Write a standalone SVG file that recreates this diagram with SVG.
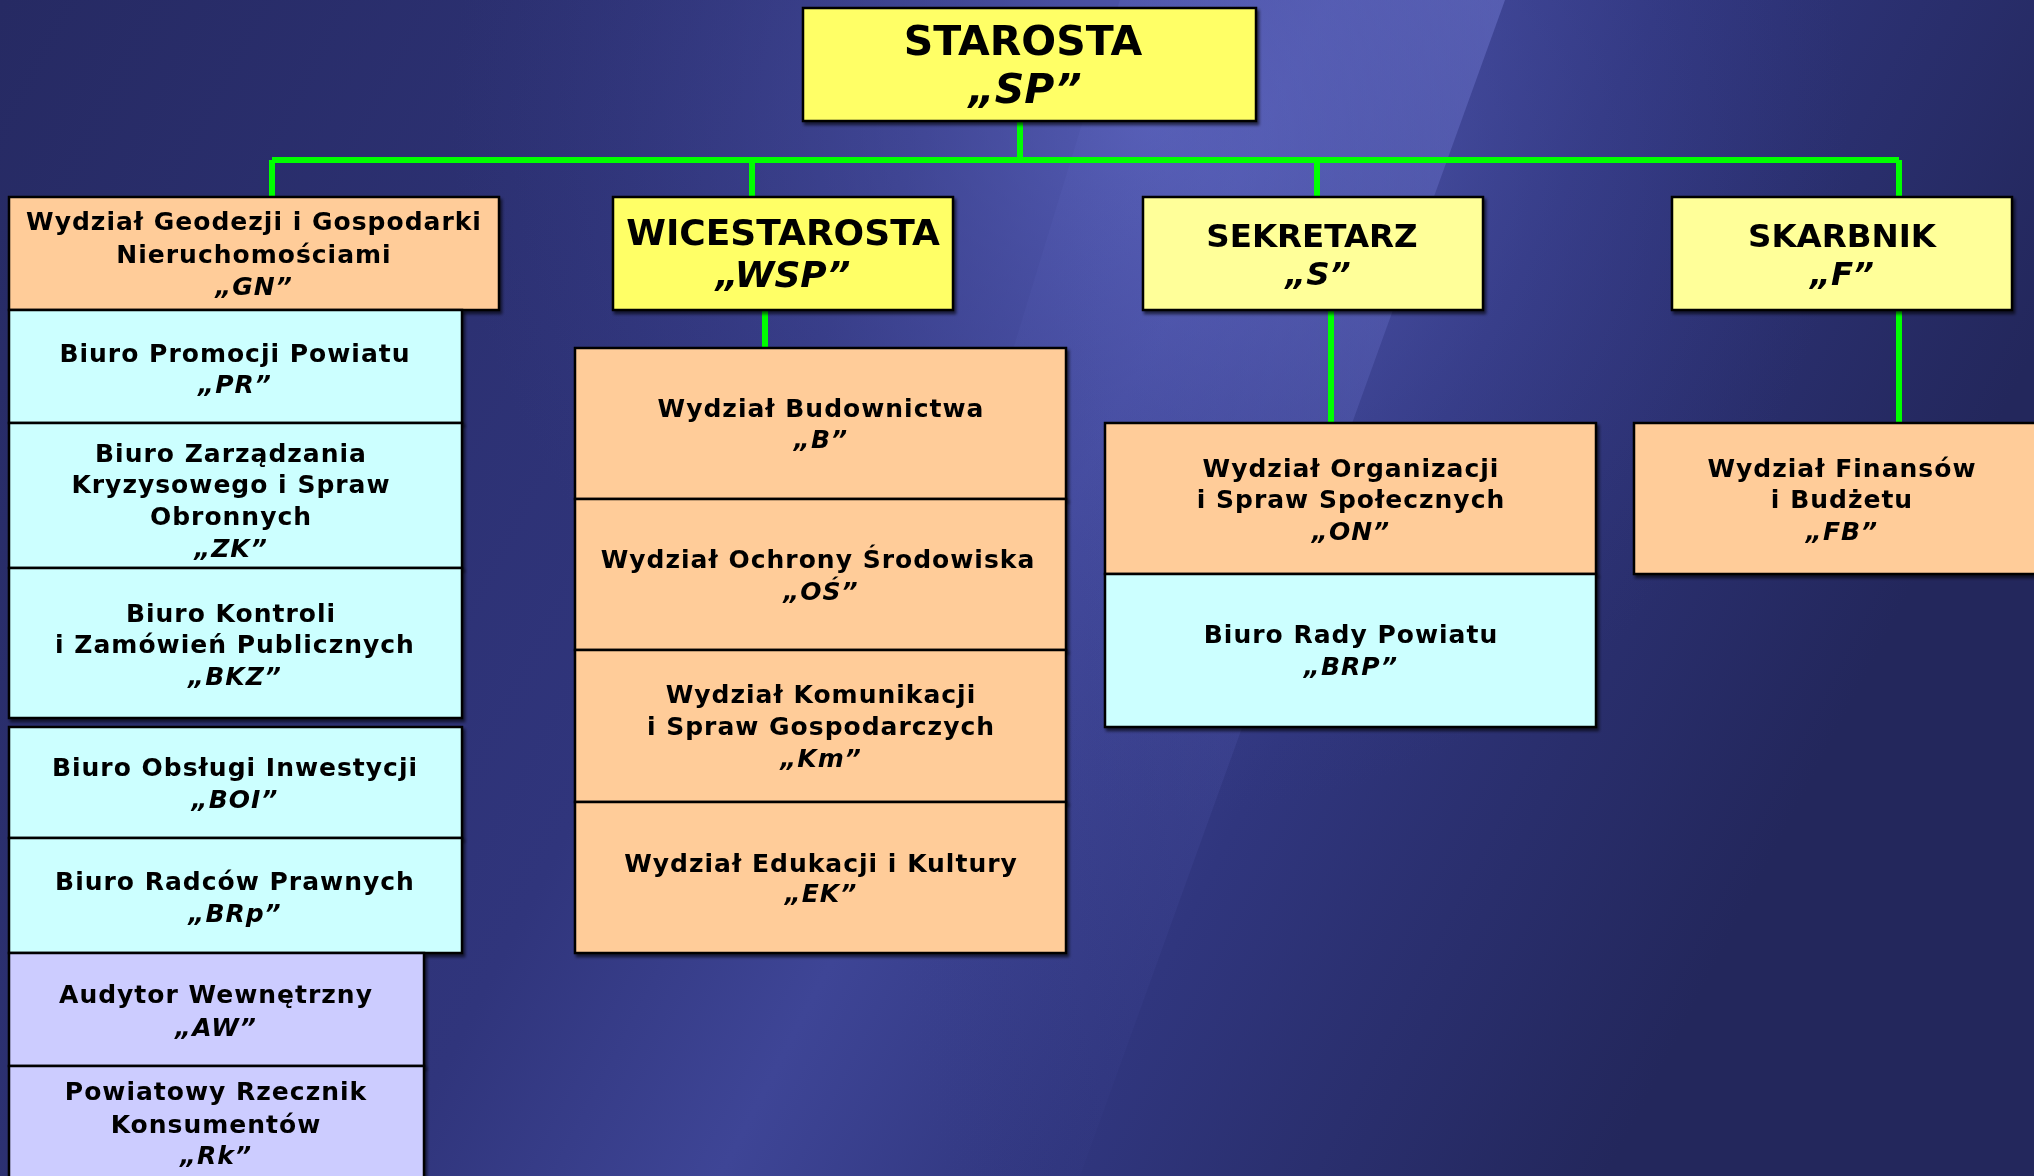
<svg xmlns="http://www.w3.org/2000/svg" width="2034" height="1176" viewBox="0 0 2034 1176">
<defs>
<linearGradient id="bg" x1="0" y1="0" x2="1" y2="0.3">
<stop offset="0" stop-color="#262a63"/>
<stop offset="0.45" stop-color="#30357c"/>
<stop offset="0.6" stop-color="#3e4596"/>
<stop offset="0.75" stop-color="#30367e"/>
<stop offset="1" stop-color="#23275c"/>
</linearGradient>
<linearGradient id="beam" x1="1" y1="0" x2="0" y2="0.6">
<stop offset="0" stop-color="#7078d0" stop-opacity="0.9"/>
<stop offset="0.5" stop-color="#5a62bb" stop-opacity="0.4"/>
<stop offset="1" stop-color="#3a4090" stop-opacity="0"/>
</linearGradient>
<radialGradient id="glow" cx="1150" cy="120" r="700" gradientUnits="userSpaceOnUse">
<stop offset="0" stop-color="#6068c4" stop-opacity="0.7"/>
<stop offset="1" stop-color="#3a4090" stop-opacity="0"/>
</radialGradient>
<filter id="sh" x="-5%" y="-5%" width="110%" height="115%">
<feDropShadow dx="2" dy="3" stdDeviation="1.5" flood-color="#000" flood-opacity="0.6"/>
</filter>
</defs>
<style>
.box{stroke:#000;stroke-width:2.5}
.y1{fill:#ffff66}
.y2{fill:#ffff99}
.pe{fill:#ffcc99}
.cy{fill:#ccffff}
.lv{fill:#ccccff}
text{font-family:"DejaVu Sans","Verdana",sans-serif;font-weight:bold;fill:#000;text-anchor:middle}
.t{font-size:25px;letter-spacing:1px}
.h{font-size:36px}
.hs{font-size:32.5px}
.hb{font-size:41px}
.i{font-style:italic}
.con{stroke:#00ff00;fill:none;stroke-width:6}
</style>
<rect x="0" y="0" width="2034" height="1176" fill="url(#bg)"/>
<rect x="0" y="0" width="2034" height="1176" fill="url(#glow)"/>
<polygon points="1120,0 1505,0 1080,1176 760,1176" fill="url(#beam)" opacity="0.55"/>

<g id="connectors">
<path class="con" d="M1020,121 V160 M272,160 H1899 M272,160 V197 M752,160 V197 M1317,160 V197 M1899,160 V197"/>
<path class="con" d="M765,310 V348 M1331,310 V423 M1899,310 V423"/>
</g>

<g id="SP" filter="url(#sh)"><rect class="box y1" x="803" y="8" width="453" height="113"/>
<text class="hb" x="1023" y="55">STAROSTA</text><text class="hb i" x="1025" y="103">„SP”</text></g>

<g id="GN" filter="url(#sh)"><rect class="box pe" x="9" y="197" width="490" height="113"/>
<text class="t" x="254" y="230">Wydział Geodezji i Gospodarki</text><text class="t" x="254" y="263">Nieruchomościami</text><text class="t i" x="254" y="295">„GN”</text></g>

<g id="WSP" filter="url(#sh)"><rect class="box y1" x="613" y="197" width="340" height="113"/>
<text class="h" x="783" y="245">WICESTAROSTA</text><text class="h i" x="783" y="287">„WSP”</text></g>

<g id="S" filter="url(#sh)"><rect class="box y2" x="1143" y="197" width="340" height="113"/>
<text class="hs" x="1312" y="247">SEKRETARZ</text><text class="hs i" x="1318" y="285">„S”</text></g>

<g id="F" filter="url(#sh)"><rect class="box y2" x="1672" y="197" width="340" height="113"/>
<text class="hs" x="1842" y="247">SKARBNIK</text><text class="hs i" x="1842" y="285">„F”</text></g>

<g id="PR" filter="url(#sh)"><rect class="box cy" x="9" y="310" width="453" height="113"/>
<text class="t" x="235" y="362">Biuro Promocji Powiatu</text><text class="t i" x="235" y="393">„PR”</text></g>

<g id="ZK" filter="url(#sh)"><rect class="box cy" x="9" y="423" width="453" height="145"/>
<text class="t" x="231" y="462">Biuro Zarządzania</text><text class="t" x="231" y="493">Kryzysowego i Spraw</text><text class="t" x="231" y="525">Obronnych</text><text class="t i" x="231" y="557">„ZK”</text></g>

<g id="BKZ" filter="url(#sh)"><rect class="box cy" x="9" y="568" width="453" height="150"/>
<text class="t" x="231" y="622">Biuro Kontroli</text><text class="t" x="235" y="653">i Zamówień Publicznych</text><text class="t i" x="235" y="685">„BKZ”</text></g>

<g id="BOI" filter="url(#sh)"><rect class="box cy" x="9" y="727" width="453" height="111"/>
<text class="t" x="235" y="776">Biuro Obsługi Inwestycji</text><text class="t i" x="235" y="808">„BOI”</text></g>

<g id="BRp" filter="url(#sh)"><rect class="box cy" x="9" y="838" width="453" height="115"/>
<text class="t" x="235" y="890">Biuro Radców Prawnych</text><text class="t i" x="235" y="922">„BRp”</text></g>

<g id="AW" filter="url(#sh)"><rect class="box lv" x="9" y="953" width="415" height="113"/>
<text class="t" x="216" y="1003">Audytor Wewnętrzny</text><text class="t i" x="216" y="1036">„AW”</text></g>

<g id="Rk" filter="url(#sh)"><rect class="box lv" x="9" y="1066" width="415" height="130"/>
<text class="t" x="216" y="1100">Powiatowy Rzecznik</text><text class="t" x="216" y="1133">Konsumentów</text><text class="t i" x="216" y="1164">„Rk”</text></g>

<g id="B" filter="url(#sh)"><rect class="box pe" x="575" y="348" width="491" height="151"/>
<text class="t" x="821" y="417">Wydział Budownictwa</text><text class="t i" x="821" y="448">„B”</text></g>

<g id="OS" filter="url(#sh)"><rect class="box pe" x="575" y="499" width="491" height="151"/>
<text class="t" x="818" y="568">Wydział Ochrony Środowiska</text><text class="t i" x="821" y="600">„OŚ”</text></g>

<g id="Km" filter="url(#sh)"><rect class="box pe" x="575" y="650" width="491" height="152"/>
<text class="t" x="821" y="703">Wydział Komunikacji</text><text class="t" x="821" y="735">i Spraw Gospodarczych</text><text class="t i" x="821" y="767">„Km”</text></g>

<g id="EK" filter="url(#sh)"><rect class="box pe" x="575" y="802" width="491" height="151"/>
<text class="t" x="821" y="872">Wydział Edukacji i Kultury</text><text class="t i" x="821" y="902">„EK”</text></g>

<g id="ON" filter="url(#sh)"><rect class="box pe" x="1105" y="423" width="491" height="151"/>
<text class="t" x="1351" y="477">Wydział Organizacji</text><text class="t" x="1351" y="508">i Spraw Społecznych</text><text class="t i" x="1351" y="540">„ON”</text></g>

<g id="BRP" filter="url(#sh)"><rect class="box cy" x="1105" y="574" width="491" height="153"/>
<text class="t" x="1351" y="643">Biuro Rady Powiatu</text><text class="t i" x="1351" y="675">„BRP”</text></g>

<g id="FB" filter="url(#sh)"><rect class="box pe" x="1634" y="423" width="420" height="151"/>
<text class="t" x="1842" y="477">Wydział Finansów</text><text class="t" x="1842" y="508">i Budżetu</text><text class="t i" x="1842" y="540">„FB”</text></g>
</svg>
